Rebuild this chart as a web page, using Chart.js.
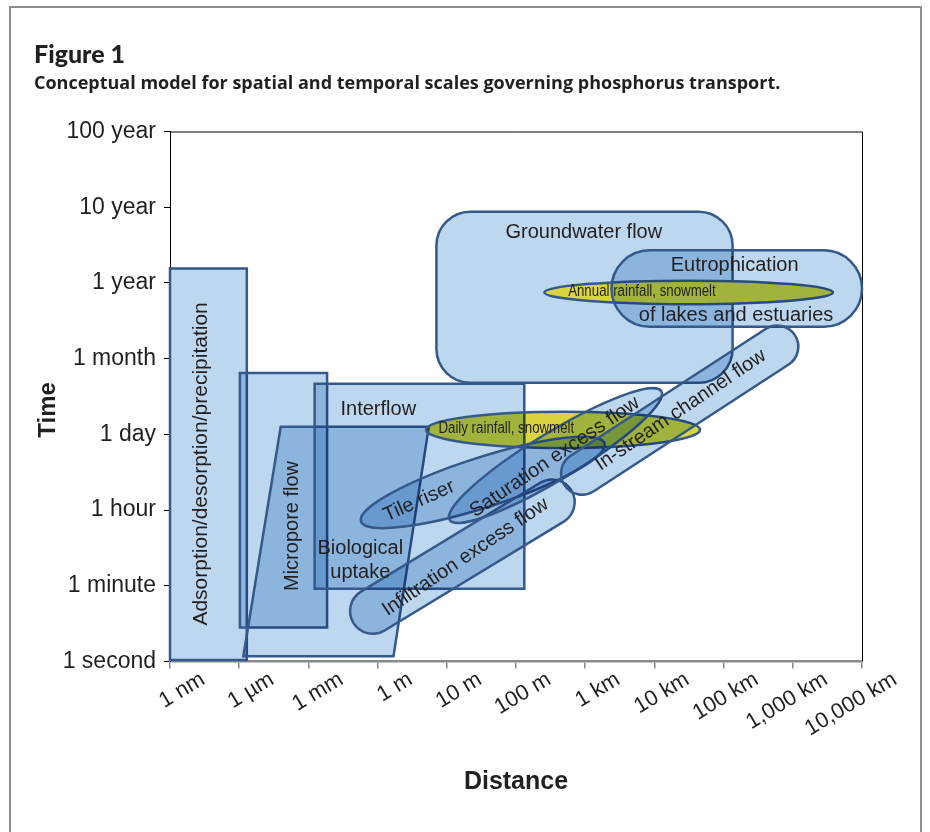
<!DOCTYPE html>
<html>
<head>
<meta charset="utf-8">
<title>Figure 1</title>
<script src="https://cdn.jsdelivr.net/npm/chart.js@4.4.1/dist/chart.umd.min.js"></script>
<style>
    html, body { margin: 0; padding: 0; background: #fff; }
    canvas { display: block; }
</style>
</head>
<body>
<canvas id="scaleChart" width="930" height="832"></canvas>
<script>
// Axis categories, one step per tick
const distanceLabels = ['1 nm', '1 µm', '1 mm', '1 m', '10 m', '100 m', '1 km', '10 km', '100 km', '1,000 km', '10,000 km'];
const timeLabels = ['1 second', '1 minute', '1 hour', '1 day', '1 month', '1 year', '10 year', '100 year'];

// Process extents, in axis steps (distance index, time index)
const adsorption = { distance: [0, 1.11], time: [0.02, 5.19] };
const micropore = { distance: [1.01, 2.27], time: [0.45, 3.81] };
const biological = [[1.06, 0.07], [1.60, 3.10], [3.74, 3.10], [3.23, 0.07]];
const interflow = { distance: [2.09, 5.12], time: [0.96, 3.67] };
const groundwater = { distance: [3.85, 8.13], time: [3.68, 5.94] };
const annualRain = { distance: [5.41, 9.58], time: [4.72, 5.03] };
const eutrophication = { distance: [6.38, 10.0], time: [4.42, 5.43] };
const dailyRain = { distance: [3.70, 7.66], time: [2.82, 3.30] };

// Diagonal processes: end points and half thickness (time steps)
const tileRiser = { from: [2.76, 1.85], to: [6.28, 2.88], half: 0.33 };
const infiltration = { from: [2.65, 0.51], to: [5.80, 2.26], half: 0.30 };
const saturation = { from: [4.04, 1.87], to: [7.10, 3.57], half: 0.31 };
const inStream = { from: [5.70, 2.33], to: [9.03, 4.31], half: 0.28 };

// Labels placed at (distance, time)
const processLabels = [
    { lines: ['Adsorption/desorption/precipitation'], at: [0.45, 2.61], angle: -90, size: 21 },
    { lines: ['Micropore flow'], at: [1.77, 1.79], angle: -90 },
    { lines: ['Interflow'], at: [3.01, 3.33], angle: 0 },
    { lines: ['Biological', 'uptake'], at: [2.75, 1.33], angle: 0 },
    { lines: ['Groundwater flow'], at: [5.98, 5.67], angle: 0 },
    { lines: ['Eutrophication'], at: [8.16, 5.23], angle: 0 },
    { lines: ['of lakes and estuaries'], at: [8.18, 4.57], angle: 0 },
    { lines: ['Annual rainfall, snowmelt'], at: [6.82, 4.89], angle: 0, small: true },
    { lines: ['Daily rainfall, snowmelt'], at: [4.86, 3.07], angle: 0, small: true },
    { lines: ['Tile riser'], at: [3.60, 2.12], angle: -24 },
    { lines: ['Saturation excess flow'], at: [5.56, 2.70], angle: -34 },
    { lines: ['Infiltration excess flow'], at: [4.27, 1.38], angle: -34 },
    { lines: ['In-stream channel flow'], at: [7.38, 3.32], angle: -34 }
];

const FONT = '"Liberation Sans", Arial, sans-serif';
const INK = '#231f20';
const BLUE = '#bdd7ee';
const YELLOW = '#d9d440';
const EDGE = '#34598a';

const pagePlugin = {
    id: 'page',
    beforeDraw(chart) {
        const { ctx, width, height } = chart;
        ctx.save();
        ctx.fillStyle = '#fff';
        ctx.fillRect(0, 0, width, height);
        ctx.strokeStyle = '#8f8f8f';
        ctx.lineWidth = 2;
        ctx.strokeRect(10, 7, 911, 900);
        ctx.restore();
    }
};

const shapesPlugin = {
    id: 'processShapes',
    afterDatasetsDraw(chart) {
        const { ctx, chartArea: area, scales: { x, y } } = chart;
        const px = d => x.getPixelForValue(d);
        const py = t => y.getPixelForValue(t);
        const stepY = Math.abs(py(1) - py(0));

        // plot box top and right
        ctx.save();
        ctx.strokeStyle = '#000';
        ctx.lineWidth = 1;
        ctx.beginPath();
        ctx.moveTo(area.left, area.top + 0.5);
        ctx.lineTo(area.right + 0.5, area.top + 0.5);
        ctx.lineTo(area.right + 0.5, area.bottom);
        ctx.stroke();
        ctx.restore();

        const paint = (fill, mode) => {
            ctx.save();
            ctx.globalCompositeOperation = mode || 'multiply';
            ctx.fillStyle = fill;
            ctx.fill();
            ctx.globalCompositeOperation = 'source-over';
            ctx.strokeStyle = EDGE;
            ctx.lineWidth = 2.5;
            ctx.stroke();
            ctx.restore();
        };
        const box = (r, radius) => {
            const x0 = px(r.distance[0]), x1 = px(r.distance[1]);
            const y0 = py(r.time[1]), y1 = py(r.time[0]);
            const rr = radius === 'full' ? (y1 - y0) / 2 : (radius || 0);
            ctx.beginPath();
            ctx.moveTo(x0 + rr, y0);
            ctx.arcTo(x1, y0, x1, y1, rr);
            ctx.arcTo(x1, y1, x0, y1, rr);
            ctx.arcTo(x0, y1, x0, y0, rr);
            ctx.arcTo(x0, y0, x1, y0, rr);
            ctx.closePath();
        };
        const flatEllipse = r => {
            const x0 = px(r.distance[0]), x1 = px(r.distance[1]);
            const y0 = py(r.time[1]), y1 = py(r.time[0]);
            ctx.beginPath();
            ctx.ellipse((x0 + x1) / 2, (y0 + y1) / 2, (x1 - x0) / 2, (y1 - y0) / 2, 0, 0, Math.PI * 2);
        };
        const diagonal = (s, capsule) => {
            const ax = px(s.from[0]), ay = py(s.from[1]);
            const bx = px(s.to[0]), by = py(s.to[1]);
            const len = Math.hypot(bx - ax, by - ay);
            const rot = Math.atan2(by - ay, bx - ax);
            const h = s.half * stepY;
            const cx = (ax + bx) / 2, cy = (ay + by) / 2;
            ctx.beginPath();
            if (capsule) {
                const hl = len / 2 - h;
                const c = Math.cos(rot), sn = Math.sin(rot);
                const p = (u, v) => [cx + u * c - v * sn, cy + u * sn + v * c];
                let q = p(-hl, -h);
                ctx.moveTo(q[0], q[1]);
                q = p(hl, -h);
                ctx.lineTo(q[0], q[1]);
                q = p(hl, 0);
                ctx.arc(q[0], q[1], h, rot - Math.PI / 2, rot + Math.PI / 2);
                q = p(-hl, h);
                ctx.lineTo(q[0], q[1]);
                q = p(-hl, 0);
                ctx.arc(q[0], q[1], h, rot + Math.PI / 2, rot + Math.PI * 1.5);
                ctx.closePath();
            } else {
                ctx.ellipse(cx, cy, len / 2, h, rot, 0, Math.PI * 2);
            }
        };

        box(adsorption); paint(BLUE);
        box(micropore); paint(BLUE);
        ctx.beginPath();
        biological.forEach(([d, t], i) => i ? ctx.lineTo(px(d), py(t)) : ctx.moveTo(px(d), py(t)));
        ctx.closePath();
        paint(BLUE);
        box(interflow); paint(BLUE);
        box(groundwater, 34); paint(BLUE);
        flatEllipse(annualRain); paint(YELLOW, 'source-over');
        box(eutrophication, 'full'); paint(BLUE);
        flatEllipse(dailyRain); paint(YELLOW);
        diagonal(tileRiser, false); paint(BLUE);
        diagonal(infiltration, true); paint(BLUE);
        diagonal(saturation, false); paint(BLUE);
        diagonal(inStream, true); paint(BLUE);

        // labels
        processLabels.forEach(l => {
            ctx.save();
            ctx.translate(px(l.at[0]), py(l.at[1]));
            ctx.rotate(l.angle * Math.PI / 180);
            if (l.small) ctx.scale(0.83, 1);
            ctx.font = (l.small ? 16 : (l.size || 20)) + 'px ' + FONT;
            ctx.fillStyle = INK;
            ctx.textAlign = 'center';
            ctx.textBaseline = 'middle';
            const lh = 24;
            l.lines.forEach((t, i) => ctx.fillText(t, 0, (i - (l.lines.length - 1) / 2) * lh));
            ctx.restore();
        });
    }
};

new Chart(document.getElementById('scaleChart'), {
    type: 'scatter',
    data: { datasets: [] },
    options: {
        responsive: false,
        animation: false,
        devicePixelRatio: 1,
        layout: { padding: { left: 34, right: 68, top: 0, bottom: 0 } },
        plugins: {
            legend: { display: false },
            tooltip: { enabled: false },
            title: {
                display: true,
                text: 'Figure 1',
                align: 'start',
                color: INK,
                font: { family: 'Lato, "Open Sans", sans-serif', size: 25, weight: '900', lineHeight: 1.2 },
                padding: { top: 40, bottom: 0 }
            },
            subtitle: {
                display: true,
                text: 'Conceptual model for spatial and temporal scales governing phosphorus transport.',
                align: 'start',
                color: INK,
                font: { family: '"Open Sans", sans-serif', size: 18, weight: 'bold', lineHeight: 1.2 },
                padding: { top: 3.5, bottom: 36.4 }
            }
        },
        scales: {
            x: {
                type: 'linear',
                min: 0,
                max: distanceLabels.length - 1,
                afterFit: s => { s.height = 170.5; },
                afterBuildTicks: s => { s.ticks = distanceLabels.map((_, i) => ({ value: i })); },
                ticks: {
                    autoSkip: false,
                    minRotation: 31,
                    maxRotation: 31,
                    labelOffset: 33,
                    padding: -2,
                    color: INK,
                    font: { family: FONT, size: 22 },
                    callback: v => distanceLabels[v]
                },
                grid: { drawOnChartArea: false, tickLength: 7, color: '#8a8a8a', lineWidth: 1.5 },
                border: { color: '#8a8a8a', width: 2.5 },
                title: {
                    display: true,
                    text: 'Distance',
                    color: INK,
                    font: { family: FONT, size: 25, weight: 'bold', lineHeight: 1.2 },
                    padding: { top: 0, bottom: 35 }
                }
            },
            y: {
                type: 'linear',
                min: 0,
                max: timeLabels.length - 1,
                afterFit: s => { s.width = 136; },
                afterBuildTicks: s => { s.ticks = timeLabels.map((_, i) => ({ value: i })); },
                ticks: {
                    autoSkip: false,
                    padding: 8,
                    color: INK,
                    font: { family: FONT, size: 23 },
                    callback: v => timeLabels[v]
                },
                grid: { drawOnChartArea: false, tickLength: 6, color: '#000', lineWidth: 1 },
                border: { color: '#000', width: 1 },
                title: {
                    display: true,
                    text: 'Time\u00a0\u00a0\u00a0\u00a0',
                    color: INK,
                    font: { family: FONT, size: 24, weight: 'bold', lineHeight: 1.2 },
                    padding: { top: 0, bottom: 0 }
                }
            }
        }
    },
    plugins: [pagePlugin, shapesPlugin]
});
</script>
</body>
</html>
